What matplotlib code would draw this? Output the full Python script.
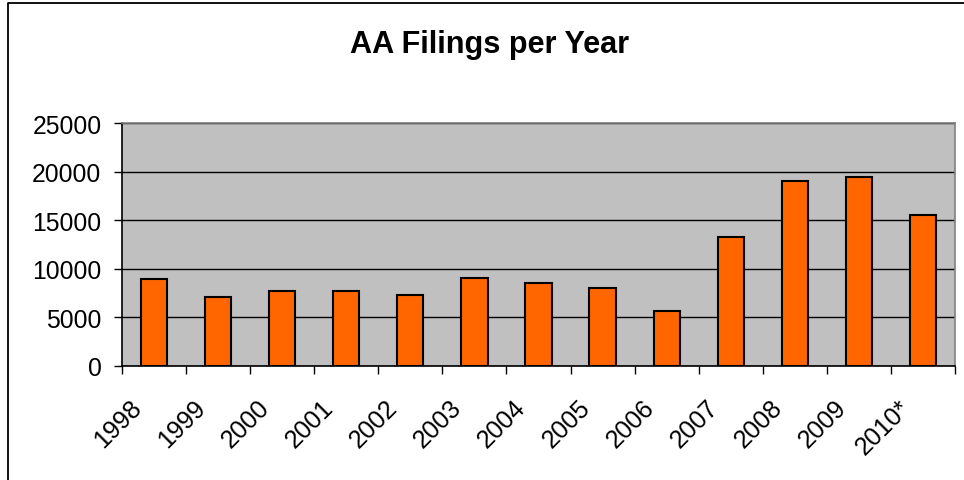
import matplotlib
matplotlib.use("Agg")
import matplotlib.pyplot as plt
from matplotlib.lines import Line2D
from matplotlib.transforms import ScaledTranslation
import numpy as np

years = ["1998", "1999", "2000", "2001", "2002", "2003", "2004",
         "2005", "2006", "2007", "2008", "2009", "2010*"]
filings = [8950, 7050, 7680, 7680, 7270, 9090, 8500,
           8060, 5660, 13300, 19030, 19410, 15500]
yticks = [0, 5000, 10000, 15000, 20000, 25000]

plt.rcParams['font.family'] = ['Liberation Sans', 'DejaVu Sans']

W, H = 964, 481
fig = plt.figure(figsize=(W / 100, H / 100), dpi=100)
ax = fig.add_axes([122 / W, 1 - 367 / H, (955 - 122) / W, (367 - 124) / H])
ax.set_facecolor('#C0C0C0')

x = np.arange(len(years))
ax.bar(x, filings, width=0.41, color='#FF6600', edgecolor='black',
       linewidth=1.5, zorder=3)

ax.set_xlim(-0.5, len(years) - 0.5)
ax.set_ylim(0, 25000)
ax.set_yticks(yticks)
ax.set_yticklabels([str(v) for v in yticks])
ax.yaxis.grid(True, color='black', linewidth=1.0, zorder=1)
ax.set_axisbelow(True)

ax.tick_params(axis='y', direction='out', length=5.8, width=1.0,
               pad=9.0, labelsize=17.8, color='black')
ax.set_xticks(x)
ax.set_xticklabels(years, rotation=45, ha='right', va='top')
ax.tick_params(axis='x', which='major', length=0, pad=21.0, labelsize=18.2)
ax.set_xticks(np.arange(len(years) + 1) - 0.5, minor=True)
ax.tick_params(axis='x', which='minor', direction='out', length=5.8,
               width=1.0, color='black')
offset = ScaledTranslation(-8 / 100, 0, fig.dpi_scale_trans)
for lab in ax.get_xticklabels():
    lab.set_transform(lab.get_transform() + offset)

ax.spines['left'].set_color('black')
ax.spines['bottom'].set_color('black')
ax.spines['top'].set_color('#808080')
ax.spines['right'].set_color('#808080')
for s in ax.spines.values():
    s.set_linewidth(1.2)

fig.text(490 / W, 1 - 53 / H, "AA Filings per Year", ha='center',
         va='baseline', fontsize=22.1, fontweight='bold')

fig.add_artist(Line2D([7.5 / W, 7.5 / W, 1.0], [0.0, 1 - 4 / H, 1 - 4 / H],
                      transform=fig.transFigure, color='black',
                      linewidth=1.3))

fig.savefig("out.png", dpi=100)
